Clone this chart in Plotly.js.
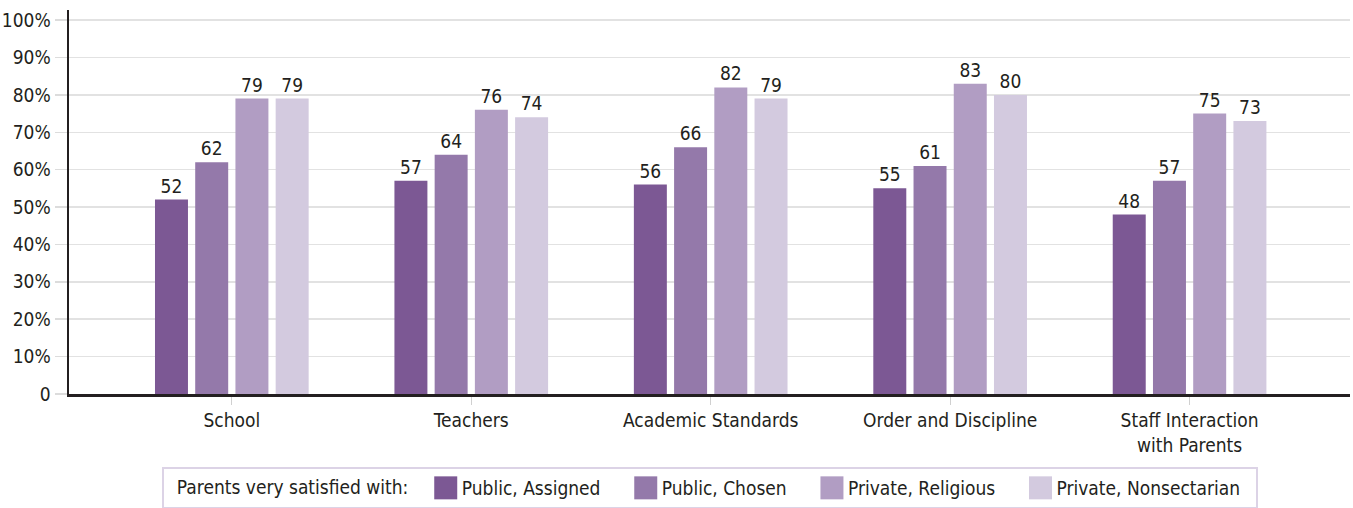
<!DOCTYPE html>
<html>
<head>
<meta charset="utf-8">
<script src="https://cdn.plot.ly/plotly-3.0.1.min.js"></script>
<style>
html,body{margin:0;padding:0;background:#fff;}
#chart{width:1353px;height:508px;}
</style>
</head>
<body>
<div id="chart"></div>
<script>
const categories = ["School", "Teachers", "Academic Standards", "Order and Discipline", "Staff Interaction<br>with Parents"];
const seriesNames = ["Public, Assigned", "Public, Chosen", "Private, Religious", "Private, Nonsectarian"];
const publicAssigned = [52, 57, 56, 55, 48];
const publicChosen = [62, 64, 66, 61, 57];
const privateReligious = [79, 76, 82, 83, 75];
const privateNonsectarian = [79, 74, 79, 80, 73];
const yTickVals = [0, 10, 20, 30, 40, 50, 60, 70, 80, 90, 100];
const yTickText = ["0", "10%", "20%", "30%", "40%", "50%", "60%", "70%", "80%", "90%", "100%"];
const legendTitle = "Parents very satisfied with:";

const colors = ["#7c5894", "#9479aa", "#b19dc3", "#d3cadf"];
const FONT = "'DejaVu Sans Condensed', 'Liberation Sans Narrow', 'Roboto', sans-serif";
const allValues = [publicAssigned, publicChosen, privateReligious, privateNonsectarian];
const NB = "\u00a0";

const traces = allValues.map((vals, i) => ({
  type: "bar",
  name: seriesNames[i] + (i < 3 ? NB.repeat(3) : NB.repeat(2)),
  x: categories,
  y: vals,
  marker: {color: colors[i]},
  text: vals.map(String),
  textposition: "outside",
  cliponaxis: false,
  textfont: {family: FONT, size: 19, color: "#231f20"},
  hoverinfo: "x+y+name"
}));

const layout = {
  width: 1353,
  height: 508,
  margin: {l: 69, r: 3, t: 10, b: 114, autoexpand: false},
  paper_bgcolor: "#fff",
  plot_bgcolor: "#fff",
  font: {family: FONT, size: 18, color: "#231f20"},
  barmode: "group",
  bargap: 0.328,
  bargroupgap: 0.18,
  showlegend: true,
  xaxis: {
    type: "category",
    range: [-0.68, 4.67],
    showline: true,
    linecolor: "#231f20",
    linewidth: 2.5,
    ticks: "outside",
    ticklen: 8,
    tickcolor: "#d0d0d0",
    tickwidth: 1,
    tickfont: {family: FONT, size: 19, color: "#231f20"},
    showgrid: false,
    fixedrange: true
  },
  yaxis: {
    range: [0, 102.7],
    tickvals: yTickVals,
    ticktext: yTickText,
    showline: true,
    linecolor: "#231f20",
    linewidth: 2.5,
    ticks: "outside",
    ticklen: 12,
    tickcolor: "#dcdcdc",
    tickwidth: 1.5,
    showgrid: true,
    gridcolor: "#e2e2e2",
    gridwidth: 1.5,
    zeroline: false,
    tickfont: {family: FONT, size: 19, color: "#231f20"},
    fixedrange: true
  },
  legend: {
    orientation: "h",
    x: (162 - 69) / 1281,
    xanchor: "left",
    y: (394 - 467) / 384,
    yanchor: "top",
    bordercolor: "#dcd3e6",
    borderwidth: 2,
    bgcolor: "#fff",
    font: {family: FONT, size: 19, color: "#231f20"},
    title: {text: NB + NB + legendTitle + NB, font: {family: FONT, size: 19, color: "#231f20"}, side: "left"},
    itemwidth: 30,
    traceorder: "normal"
  }
};

Plotly.newPlot("chart", traces, layout, {displayModeBar: false, staticPlot: true}).then(() => {
  document.querySelectorAll(".legend .legendpoints path").forEach(p => {
    p.setAttribute("d", "M15.5,11.5H-7.5V-11.5H15.5Z");
  });
});
</script>
</body>
</html>
